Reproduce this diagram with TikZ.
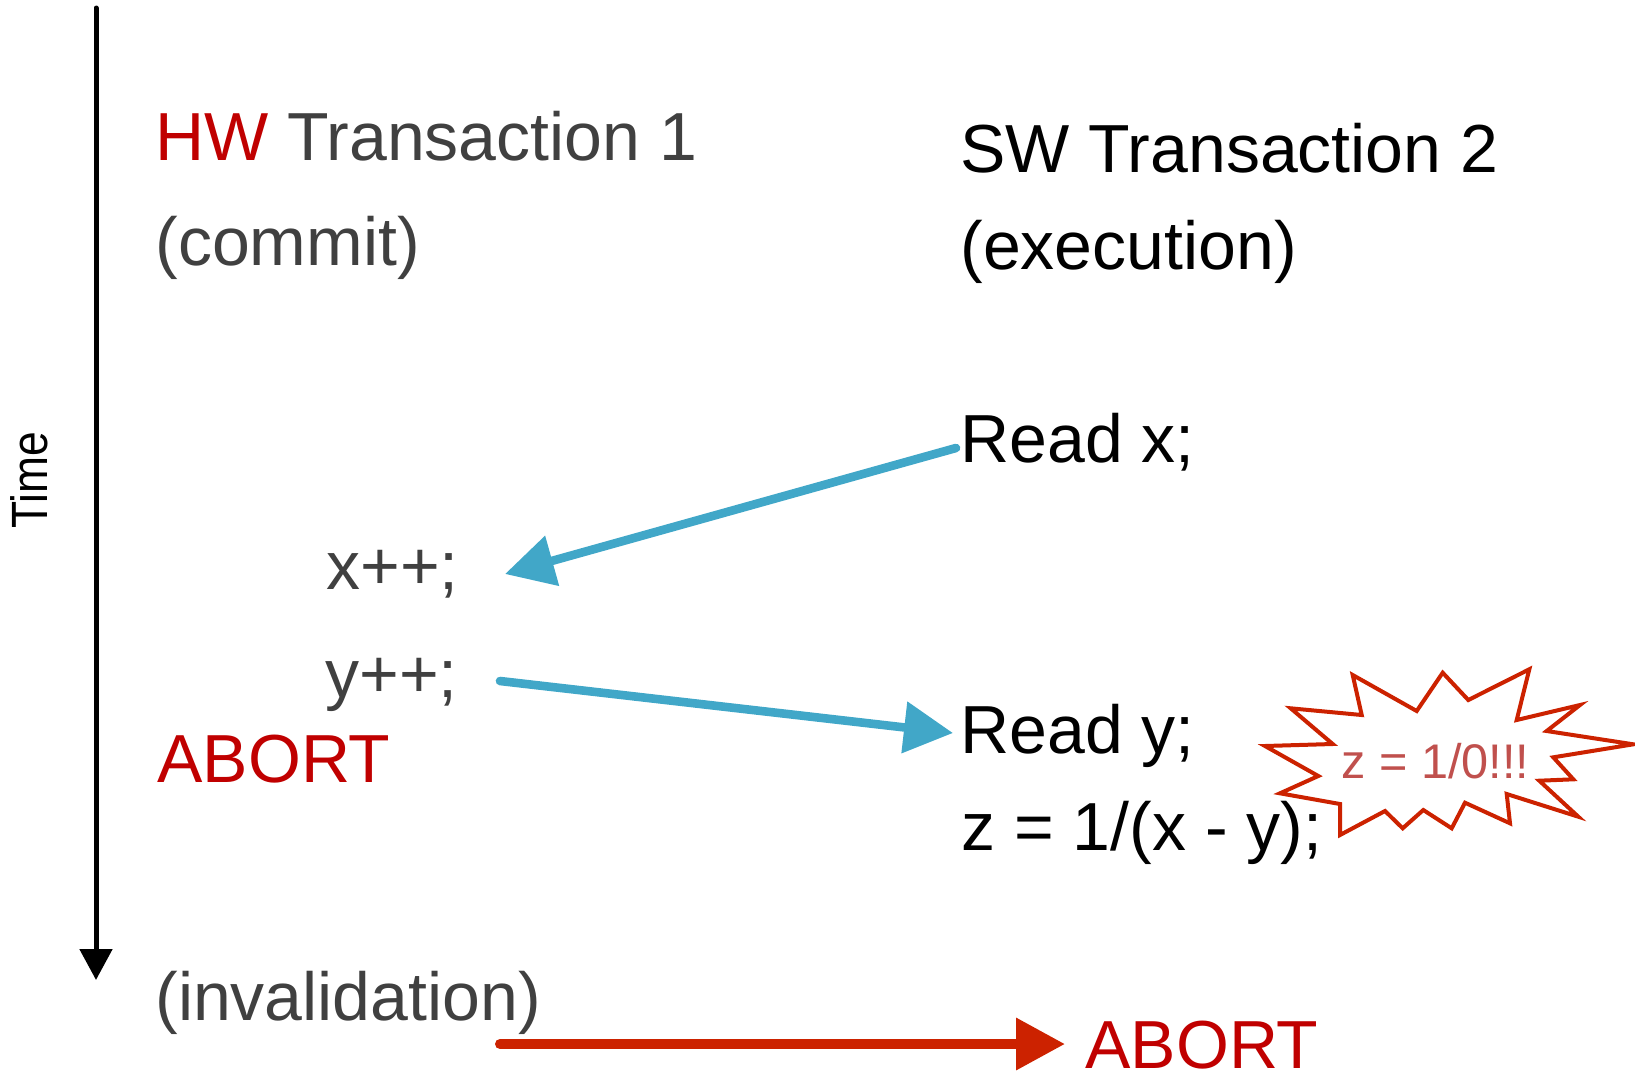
\documentclass[tikz,border=0pt]{standalone}
\usepackage{fontspec}
\setmainfont{Liberation Sans}
\newfontfamily\narrowsans[FakeStretch=0.87]{Liberation Sans}
\usetikzlibrary{arrows.meta}
\definecolor{hwred}{RGB}{192,0,0}
\definecolor{txtgray}{RGB}{64,64,64}
\definecolor{flowblue}{RGB}{65,167,200}
\definecolor{alertred}{RGB}{204,34,0}
\definecolor{burstred}{RGB}{192,80,77}

\begin{document}
\begin{tikzpicture}[x=0.5pt,y=-0.5pt,
  lbl/.style={anchor=base west, inner sep=0pt, font=\fontsize{34pt}{40pt}\selectfont},
  hwtext/.style={lbl, text=txtgray},
  swtext/.style={lbl, text=black},
  aborttext/.style={lbl, text=hwred},
  timeline/.style={line width=2.5pt, line cap=round, -{Triangle[length=15.5pt,width=16pt]}},
  flow/.style={draw=flowblue, line width=4.3pt, line cap=round, -{Triangle[length=24.5pt,width=25pt]}},
  abortflow/.style={draw=alertred, line width=5pt, line cap=round, -{Triangle[length=24.5pt,width=25pt]}},
  burst/.style={draw=alertred, line width=2pt, line join=miter, fill=white}]

\useasboundingbox (0,0) rectangle (1635,1073);

% time axis
\coordinate (t-start) at (96,8);
\coordinate (t-end) at (96,980);
\draw[timeline] (t-start) -- (t-end);
\node[anchor=base, rotate=90, inner sep=0pt,
      font=\narrowsans\fontsize{25.5pt}{30pt}\selectfont] (time) at (47,480) {Time};

% hardware transaction
\node[hwtext] (hw1) at (155,160) {\textcolor{hwred}{HW} Transaction 1};
\node[hwtext] (commit) at (155,265) {(commit)};
\node[hwtext] (xinc) at (326,589) {x++;};
\node[hwtext] (yinc) at (325,697) {y++;};
\node[aborttext] (hwabort) at (157,782) {ABORT};
\node[hwtext] (inval) at (155,1020) {(invalidation)};

% software transaction
\node[swtext] (sw2) at (960,172) {SW Transaction 2};
\node[swtext] (exec) at (960,269) {(execution)};
\node[swtext] (readx) at (960,462) {Read x;};
\node[swtext] (ready) at (960,753) {Read y;};
\node[swtext] (zdiv) at (961,850) {z = 1/(x - y);};
\node[aborttext] (swabort) at (1085,1068) {ABORT};

% data flow between the transactions
\coordinate (readx-out) at (956,448);
\coordinate (xinc-in) at (505,574);
\coordinate (yinc-out) at (500,681);
\coordinate (ready-in) at (953,733);
\coordinate (inval-out) at (500,1044);
\coordinate (swabort-in) at (1065,1044);
\draw[flow] (readx-out) -- (xinc-in);
\draw[flow] (yinc-out) -- (ready-in);
\draw[abortflow] (inval-out) -- (swabort-in);

% division-by-zero burst
\draw[burst] (1442.7,672.7) -- (1468.3,700) -- (1529.3,669.3) -- (1516.7,720)
  -- (1580,705) -- (1546.7,731) -- (1633.3,744.3) -- (1553.3,757.3)
  -- (1573.3,779.3) -- (1539.3,780.7) -- (1578.3,816.7) -- (1506.7,794)
  -- (1510,823.3) -- (1465,802.7) -- (1451.7,828.3) -- (1423.3,810)
  -- (1402.7,828.3) -- (1385,811) -- (1340,835) -- (1340,804)
  -- (1280,793.3) -- (1318.3,776) -- (1265,746) -- (1332.7,744)
  -- (1290.7,708.3) -- (1361.7,715) -- (1352.7,675) -- (1416.7,711) -- cycle;
\node[anchor=base west, inner sep=0pt, text=burstred,
      font=\fontsize{24.3pt}{28pt}\selectfont] (divzero) at (1341,778) {z = 1/0!!!};

\end{tikzpicture}
\end{document}
